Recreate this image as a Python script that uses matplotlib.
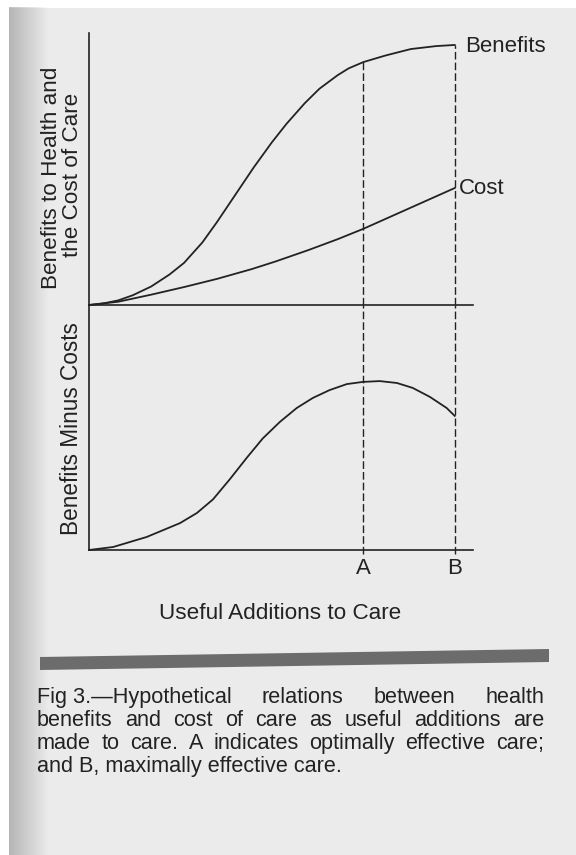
import numpy as np
import matplotlib.pyplot as plt
from matplotlib.patches import Polygon, Rectangle

# useful additions to care (arbitrary units, A = 7.5, B = 10)
benefit_x = [0, 0.4, 0.8, 1.2, 1.7, 2.2, 2.6, 3.1, 3.5, 4.0, 4.5, 5.0, 5.4, 5.9,
             6.3, 6.8, 7.1, 7.5, 8.1, 8.8, 9.5, 10]
benefits = [0, 0.06, 0.17, 0.36, 0.68, 1.12, 1.55, 2.3, 3.05, 4.05, 5.05, 5.98,
            6.66, 7.42, 7.95, 8.45, 8.7, 8.93, 9.17, 9.41, 9.52, 9.56]
cost_x = [0, 0.8, 1.7, 2.6, 3.5, 4.45, 5.1, 6.0, 6.8, 7.5, 8.6, 9.3, 10]
cost = [0, 0.12, 0.38, 0.66, 0.96, 1.32, 1.6, 2.02, 2.42, 2.8, 3.46, 3.88, 4.30]
net_x = [0, 0.66, 1.58, 2.49, 2.95, 3.39, 3.85, 4.32, 4.75, 5.22, 5.68, 6.12,
         6.58, 7.05, 7.49, 7.95, 8.42, 8.85, 9.32, 9.78, 10]
net = [0, 0.11, 0.48, 0.99, 1.36, 1.86, 2.6, 3.4, 4.1, 4.71, 5.22, 5.59,
       5.88, 6.10, 6.18, 6.21, 6.14, 5.96, 5.63, 5.22, 4.93]

marks = [7.5, 10]
mark_labels = ["A", "B"]

caption = [["Fig 3.\u2014Hypothetical", "relations", "between", "health"],
           ["benefits", "and", "cost", "of", "care", "as", "useful", "additions", "are"],
           ["made", "to", "care.", "A", "indicates", "optimally", "effective", "care;"],
           ["and B, maximally effective care."]]

W, H = 576, 855
ink = "#222222"
paper = "#ebebeb"
plt.rcParams["font.family"] = ["Liberation Sans", "DejaVu Sans"]

fig = plt.figure(figsize=(W / 100, H / 100), dpi=100, facecolor=paper)

# scanned page background
bg = fig.add_axes([0, 0, 1, 1], zorder=-5)
bg.add_patch(Rectangle((0, 0), W, 8, color="white", lw=0, zorder=0))
bg.add_patch(Rectangle((0, 0), 9, H, color="white", lw=0, zorder=0))
shade = np.linspace(0.5, 0, 40)[None, :] * np.ones((10, 1))
bg.imshow(np.dstack([np.full_like(shade, 0.5)] * 3 + [shade]),
          extent=(9, 49, H, 8), aspect="auto", zorder=1)
bg.add_patch(Polygon([(40, 657), (549, 649), (549, 662), (40, 670)],
                     closed=True, color="#6c6c6c", lw=0, zorder=2))
bg.set_xlim(0, W)
bg.set_ylim(H, 0)
bg.set_facecolor(paper)
bg.axis("off")

ax_top = fig.add_axes([89 / W, 1 - 305 / H, 384 / W, 272 / H])
ax_bot = fig.add_axes([89 / W, 1 - 550 / H, 384 / W, 245 / H])
for ax in (ax_top, ax_bot):
    ax.set_facecolor("none")
    ax.set_xlim(0, 10.5)
    for s in ("top", "right"):
        ax.spines[s].set_visible(False)
    for s in ("left", "bottom"):
        ax.spines[s].set_color(ink)
        ax.spines[s].set_linewidth(1.2)
    ax.set_yticks([])
ax_top.set_ylim(0, 10)
ax_bot.set_ylim(0, 245 / 27.2)
ax_top.set_xticks([])

style = dict(color=ink, lw=1.3, clip_on=False, solid_joinstyle="round")
ax_top.plot(benefit_x, benefits, **style)
ax_top.plot(cost_x, cost, **style)
ax_bot.plot(net_x, net, **style)

dash = (0, (5.5, 2.2))
tops = [benefits[benefit_x.index(m)] for m in marks]
ax_top.vlines(marks, 0, tops, colors=ink, lw=1.0, linestyles=[dash])
ax_bot.vlines(marks, -0.15, ax_bot.get_ylim()[1], colors=ink, lw=1.0,
              linestyles=[dash], clip_on=False)

ax_top.annotate("Benefits", (benefit_x[-1], benefits[-1]), xytext=(7.5, -5.3),
                textcoords="offset points", fontsize=16, color=ink, va="baseline")
ax_top.annotate("Cost", (cost_x[-1], cost[-1]), xytext=(3.3, -4.3),
                textcoords="offset points", fontsize=16, color=ink, va="baseline")

ax_bot.set_xticks(marks, mark_labels)
ax_bot.tick_params(axis="x", length=0, pad=5.5, labelsize=16, labelcolor=ink)

fig.text(280 / W, 1 - 619 / H, "Useful Additions to Care", fontsize=16.2,
         color=ink, ha="center", va="baseline")
fig.text(52 / W, 1 - 178 / H, "Benefits to Health and", fontsize=16.2,
         color=ink, ha="center", va="center", rotation=90)
fig.text(73 / W, 1 - 175 / H, "the Cost of Care", fontsize=16.2,
         color=ink, ha="center", va="center", rotation=90)
fig.text(71 / W, 1 - 429 / H, "Benefits Minus Costs", fontsize=16.3,
         color=ink, ha="center", va="center", rotation=90)

# justified caption
renderer = fig.canvas.get_renderer()
left, right = 37, 544
for i, words in enumerate(caption):
    y = 1 - (703 + i * 23) / H
    texts = [fig.text(0, y, w, fontsize=15.6, color=ink, va="baseline") for w in words]
    widths = [t.get_window_extent(renderer).width for t in texts]
    gap = (right - left - sum(widths)) / (len(words) - 1) if len(words) > 1 else 0
    x = left
    for t, w in zip(texts, widths):
        t.set_x(x / W)
        x += w + gap

fig.savefig("out.png", dpi=100, facecolor=paper)
